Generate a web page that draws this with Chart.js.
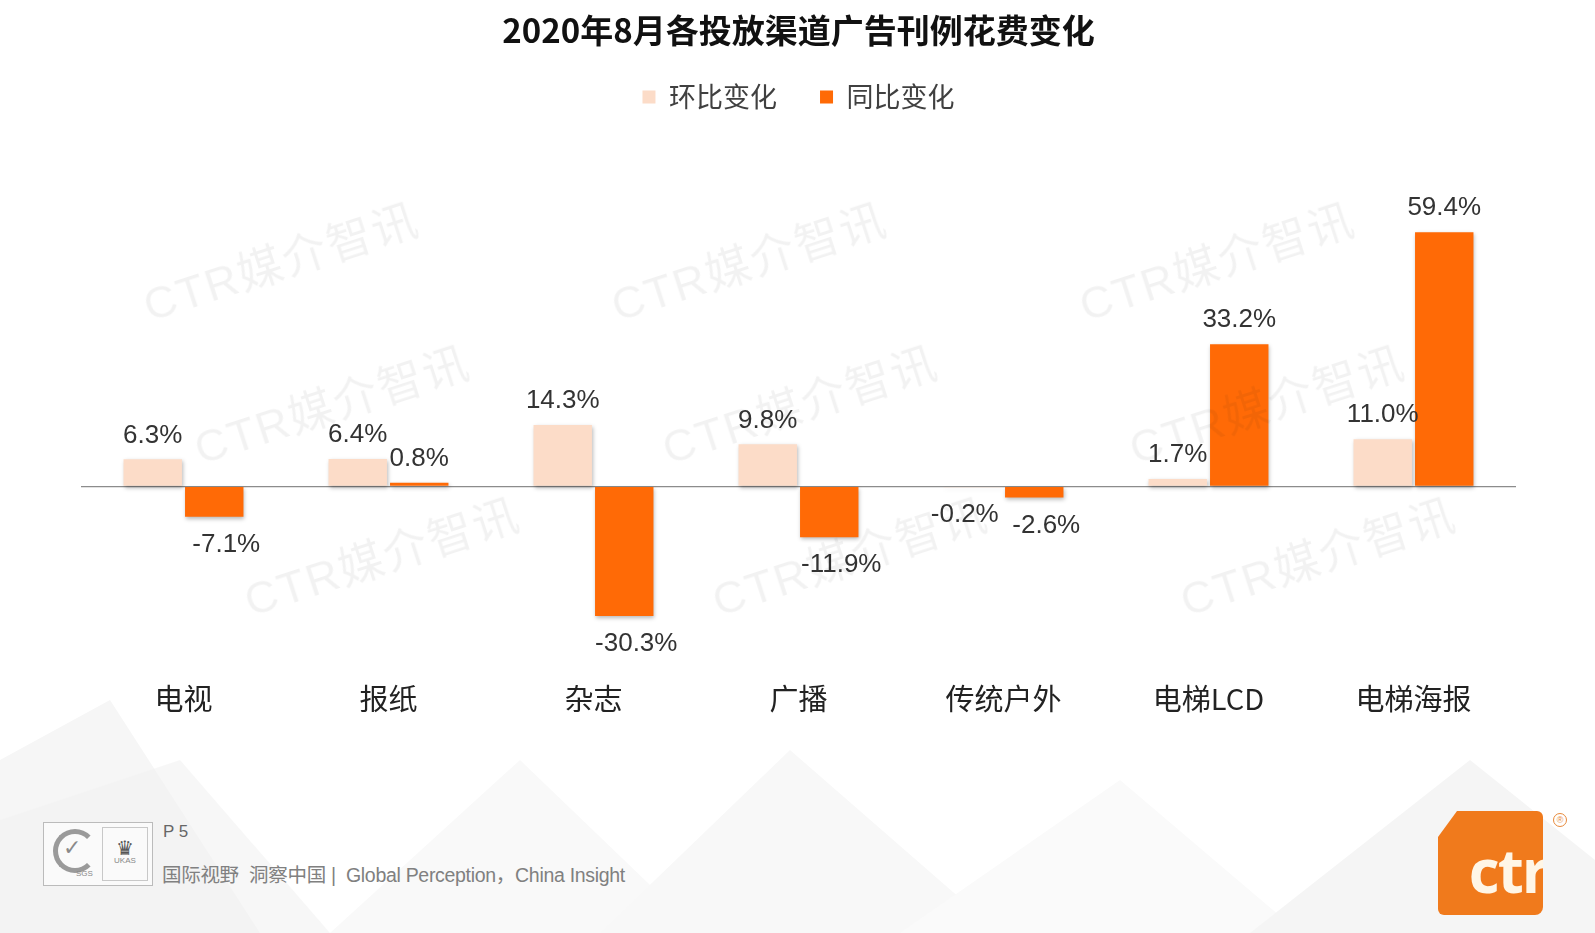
<!DOCTYPE html>
<html lang="zh">
<head>
<meta charset="utf-8">
<title>2020年8月各投放渠道广告刊例花费变化</title>
<script src="https://cdn.jsdelivr.net/npm/chart.js@4.4.1/dist/chart.umd.min.js"></script>
<style>
  html, body { margin: 0; padding: 0; }
  body {
    width: 1595px; height: 933px; position: relative; overflow: hidden;
    background: #fff; font-family: 'Noto Sans CJK SC', sans-serif;
  }
  #bg { position: absolute; left: 0; top: 0; }
  #wrap { position: absolute; left: 0; top: 0; width: 1595px; height: 740px; }
  .wm {
    position: absolute; font-size: 45px; color: rgba(0, 0, 0, 0.05);
    font-family: 'Liberation Sans', 'Noto Sans CJK SC', sans-serif;
    transform: translate(-50%, -50%) rotate(-18deg); white-space: nowrap;
    pointer-events: none; letter-spacing: 2px;
  }
  #certs {
    position: absolute; left: 43px; top: 822px; width: 108px; height: 62px;
    border: 1px solid #bbb; background: rgba(255,255,255,0.6);
  }
  #certs .c { position: absolute; top: 4px; height: 52px; border: 1px solid #c8c8c8; color: #888;
    font: 8px 'Liberation Sans', sans-serif; text-align: center; }
  #certs .sgs { left: 4px; width: 48px; border: none; }
  #certs .sgs .ring { position: absolute; left: 5px; top: 2px; width: 34px; height: 34px; border-radius: 50%;
    border: 5px solid #9a9a9a; border-right-color: transparent; }
  #certs .sgs .tick { position: absolute; left: 15px; top: 8px; font: bold 22px 'DejaVu Sans'; color: #8a8a8a; }
  #certs .sgs span { position: absolute; left: 28px; top: 42px; }
  #certs .ukas { left: 58px; width: 44px; }
  #certs .ukas .tick { font: bold 20px 'DejaVu Sans'; color: #555; margin-top: 8px; }
  #page { position: absolute; left: 163px; top: 822px; font: 17px 'Liberation Sans', sans-serif; color: #666; }
  #slogan { position: absolute; left: 162px; top: 859px; font-size: 19.5px; color: #808080;
    font-family: 'Liberation Sans', 'Noto Sans CJK SC', sans-serif; letter-spacing: -0.3px; }
  #logo {
    position: absolute; left: 1438px; top: 811px; width: 105px; height: 104px;
    background: #f07a1c; border-radius: 0 6px 8px 6px;
    clip-path: polygon(19px 0, 100% 0, 100% 100%, 0 100%, 0 26px);
    overflow: hidden;
  }
  #logo span {
    position: absolute; right: -4px; top: 18px; color: #fff6e6;
    font: bold 60px 'Open Sans', 'DejaVu Sans', sans-serif; letter-spacing: -2px;
  }
  #reg { position: absolute; left: 1553px; top: 813px; width: 12px; height: 12px; border-radius: 50%;
    border: 1px solid #e8893a; color: #e8893a; font: 9px 'Liberation Sans'; text-align: center; line-height: 12px; }
</style>
</head>
<body>
<svg id="bg" width="1595" height="933">
  <polygon points="0,760 110,700 260,933 0,933" fill="#f6f6f6"/>
  <polygon points="0,820 180,760 330,933 0,933" fill="#f1f1f1" opacity="0.6"/>
  <polygon points="330,933 520,760 700,933" fill="#f9f9f9"/>
  <polygon points="600,933 790,750 1000,933" fill="#f8f8f8"/>
  <polygon points="900,933 1120,780 1300,933" fill="#fafafa"/>
  <polygon points="1250,933 1470,760 1595,860 1595,933" fill="#f5f5f5"/>
</svg>

<div id="wrap"><canvas id="ad-chart"></canvas></div>

<div class="wm" style="left:280px;top:259px">CTR媒介智讯</div>
<div class="wm" style="left:748px;top:259px">CTR媒介智讯</div>
<div class="wm" style="left:1216px;top:259px">CTR媒介智讯</div>
<div class="wm" style="left:331px;top:402px">CTR媒介智讯</div>
<div class="wm" style="left:799px;top:402px">CTR媒介智讯</div>
<div class="wm" style="left:1266px;top:402px">CTR媒介智讯</div>
<div class="wm" style="left:381px;top:554px">CTR媒介智讯</div>
<div class="wm" style="left:849px;top:554px">CTR媒介智讯</div>
<div class="wm" style="left:1317px;top:554px">CTR媒介智讯</div>

<div id="certs">
  <div class="c sgs"><div class="ring"></div><div class="tick">✓</div><span>SGS</span></div>
  <div class="c ukas"><div class="tick">♛<br></div><div style="margin-top:-4px">UKAS</div></div>
</div>
<div id="page">P 5</div>
<div id="slogan">国际视野&nbsp; 洞察中国 |&nbsp; Global Perception，China Insight</div>
<div id="logo"><span>ctr</span></div>
<div id="reg">®</div>

<script>
const categories = ['电视', '报纸', '杂志', '广播', '传统户外', '电梯LCD', '电梯海报'];
const seriesNames = ['环比变化', '同比变化'];
const momChange = [6.3, 6.4, 14.3, 9.8, -0.2, 1.7, 11.0];
const yoyChange = [-7.1, 0.8, -30.3, -11.9, -2.6, 33.2, 59.4];

const cjk = "'Noto Sans CJK SC', sans-serif";

// soft shadow under the bars, like the original slide
const barShadow = {
  id: 'barShadow',
  beforeDatasetsDraw(chart) {
    const c = chart.ctx;
    c.save();
    c.shadowColor = 'rgba(0, 0, 0, 0.28)';
    c.shadowBlur = 4;
    c.shadowOffsetX = 1;
    c.shadowOffsetY = 2;
  },
  afterDatasetsDraw(chart) {
    chart.ctx.restore();
  }
};

// percent labels above / below each bar
const valueLabels = {
  id: 'valueLabels',
  afterDatasetsDraw(chart) {
    const c = chart.ctx;
    c.save();
    c.font = "26px 'Liberation Sans', Arial, sans-serif";
    c.fillStyle = '#333';
    c.textAlign = 'center';
    c.textBaseline = 'middle';
    chart.data.datasets.forEach((ds, i) => {
      chart.getDatasetMeta(i).data.forEach((bar, j) => {
        const v = ds.data[j];
        let x = bar.x;
        let y;
        if (v >= 0) {
          y = bar.y - 24;
        } else {
          y = bar.y + 28;
          x += i === 0 ? -8 : 12;
        }
        c.fillText(v.toFixed(1) + '%', x, y);
      });
    });
    c.restore();
  }
};

const ctx = document.getElementById('ad-chart').getContext('2d');

const chartData = {
  labels: categories,
  datasets: [
    {
      label: seriesNames[0],
      data: momChange,
      backgroundColor: '#fcdcc8',
      barPercentage: 0.95,
      categoryPercentage: 0.6
    },
    {
      label: seriesNames[1],
      data: yoyChange,
      backgroundColor: '#ff6a06',
      barPercentage: 0.95,
      categoryPercentage: 0.6
    }
  ]
};

const config = {
  type: 'bar',
  data: chartData,
  options: {
    responsive: false,
    animation: false,
    layout: { padding: { left: 81, right: 79, top: 0, bottom: 10 } },
    scales: {
      x: {
        grid: { display: false, drawTicks: false },
        border: { display: false },
        ticks: { color: '#222', padding: 14, font: { size: 29, family: cjk } }
      },
      y: {
        min: -42.3,
        max: 85.5,
        afterBuildTicks: axis => { axis.ticks = [{ value: 0 }]; },
        ticks: { display: false },
        border: { display: false },
        grid: { drawTicks: false, color: '#8c8c8c', lineWidth: 1.2 }
      }
    },
    plugins: {
      title: {
        display: true,
        text: '2020年8月各投放渠道广告刊例花费变化',
        color: '#111',
        font: { size: 33, weight: 'bold', family: cjk },
        padding: { top: 11, bottom: 23 }
      },
      legend: {
        display: true,
        position: 'top',
        labels: {
          boxWidth: 13,
          boxHeight: 13,
          color: '#404040',
          padding: 10,
          font: { size: 27, family: cjk },
          generateLabels(chart) {
            const items = Chart.defaults.plugins.legend.labels.generateLabels(chart);
            items[0].text += '\u3000 ';
            return items;
          }
        }
      },
      tooltip: { enabled: false }
    }
  },
  plugins: [barShadow, valueLabels]
};

const canvas = document.getElementById('ad-chart');
canvas.width = 1595;
canvas.height = 740;
canvas.style.width = '1595px';
canvas.style.height = '740px';

const adChart = new Chart(ctx, config);
</script>
</body>
</html>
